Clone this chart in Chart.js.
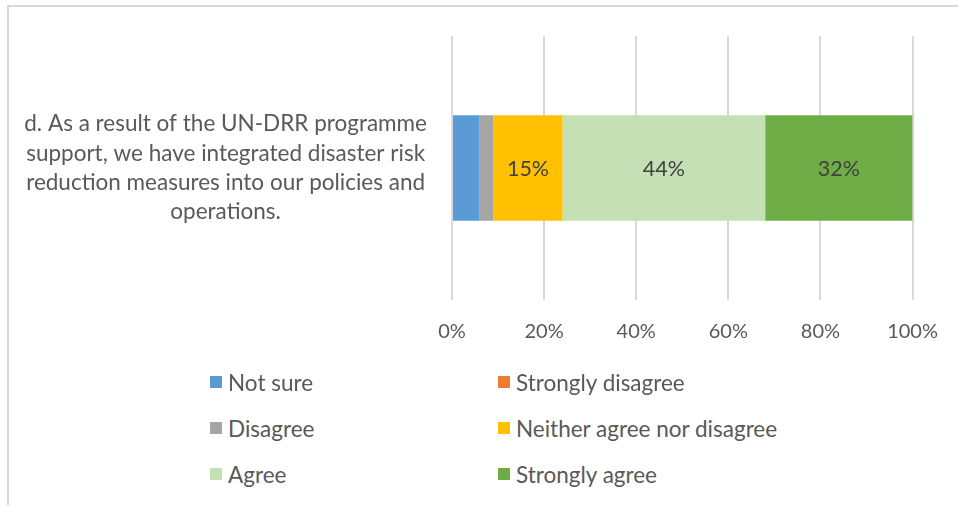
<!DOCTYPE html>
<html>
<head>
<meta charset="utf-8">
<script src="https://cdn.jsdelivr.net/npm/chart.js@4.4.1/dist/chart.umd.min.js"></script>
<style>
  html, body { margin: 0; padding: 0; background: #fff; }
  body { width: 958px; height: 505px; overflow: hidden; position: relative; font-family: Lato, sans-serif; }
  .frame {
    position: absolute; left: 7px; top: 5px; width: 1000px; height: 600px;
    border-top: 2px solid #d9d9d9; border-left: 2px solid #d9d9d9;
  }
  #wrap { position: absolute; left: 0; top: 0; width: 958px; height: 380px; }
  #legend { position: absolute; left: 210px; top: 360px; }
  .item {
    position: absolute; display: flex; align-items: center; white-space: nowrap;
    font-size: 22.5px; color: #595959; height: 30px;
  }
  .swatch { width: 12px; height: 12px; margin-right: 6px; flex: none; }
</style>
</head>
<body>
<div class="frame"></div>
<div id="wrap"><canvas id="surveyChart" width="958" height="380"></canvas></div>
<div id="legend"></div>

<script>
// question text (one category, split in lines)
const categories = [[
  'd. As a result of the UN-DRR programme',
  'support, we have integrated disaster risk',
  'reduction measures into our policies and',
  'operations.'
]];

const seriesNames = ['Not sure', 'Strongly disagree', 'Disagree', 'Neither agree nor disagree', 'Agree', 'Strongly agree'];
const seriesColors = ['#5b9bd5', '#ed7d31', '#a5a5a5', '#ffc000', '#c5e0b4', '#70ad47'];

// percentages per answer
const notSure = [6];
const stronglyDisagree = [0];
const disagree = [3];
const neither = [15];
const agree = [44];
const stronglyAgree = [32];
const seriesValues = [notSure, stronglyDisagree, disagree, neither, agree, stronglyAgree];

const xTicks = [0, 20, 40, 60, 80, 100];

const FONT = 'Lato';
const TEXT = '#595959';

// only wide segments get their value written inside
const barLabels = {
  id: 'barLabels',
  afterDatasetsDraw(chart) {
    const ctx = chart.ctx;
    ctx.save();
    ctx.font = `21.5px ${FONT}`;
    ctx.fillStyle = '#404040';
    ctx.textAlign = 'center';
    ctx.textBaseline = 'middle';
    chart.data.datasets.forEach((ds, i) => {
      chart.getDatasetMeta(i).data.forEach((bar, j) => {
        const v = ds.data[j];
        if (v < 10) return;
        const { x, y } = bar.getCenterPoint();
        ctx.fillText(`${v}%`, x, y + 1);
      });
    });
    ctx.restore();
  }
};

const chart = new Chart(document.getElementById('surveyChart'), {
  type: 'bar',
  data: {
    labels: categories,
    datasets: seriesNames.map((name, i) => ({
      label: name,
      data: seriesValues[i],
      backgroundColor: seriesColors[i],
      borderWidth: 0,
      barPercentage: 0.4,
      categoryPercentage: 1
    }))
  },
  options: {
    indexAxis: 'y',
    responsive: false,
    animation: false,
    layout: { padding: { top: 36, right: 45, bottom: 16, left: 0 } },
    plugins: {
      legend: { display: false },
      tooltip: { enabled: false }
    },
    scales: {
      x: {
        stacked: true,
        min: 0,
        max: 100,
        afterBuildTicks: (scale) => { scale.ticks = xTicks.map(v => ({ value: v })); },
        grid: { color: '#d9d9d9', lineWidth: 2, drawTicks: false },
        border: { display: false },
        ticks: {
          padding: 20,
          color: TEXT,
          font: { family: FONT, size: 20 },
          maxRotation: 0,
          callback: (v) => `${v}%`
        }
      },
      y: {
        stacked: true,
        afterFit: (scale) => {
          // the question sits in the middle of the band, no extra room needed above/below
          scale.width = 452;
          scale.paddingTop = 0;
          scale.paddingBottom = 0;
        },
        grid: { display: false },
        border: { display: false },
        ticks: {
          crossAlign: 'center',
          padding: 17,
          color: TEXT,
          font: { family: FONT, size: 22.5, lineHeight: 1.3 }
        }
      }
    }
  },
  plugins: [barLabels]
});

// two-column legend below the plot
const legend = document.getElementById('legend');
const colX = [0, 288];
const rowY = [22, 68, 114];
chart.data.datasets.forEach((ds, i) => {
  const item = document.createElement('div');
  item.className = 'item';
  item.style.left = colX[i % 2] + 'px';
  item.style.top = (rowY[Math.floor(i / 2)] - 15) + 'px';
  const sw = document.createElement('span');
  sw.className = 'swatch';
  sw.style.background = ds.backgroundColor;
  item.appendChild(sw);
  item.appendChild(document.createTextNode(ds.label));
  legend.appendChild(item);
});
</script>
</body>
</html>
